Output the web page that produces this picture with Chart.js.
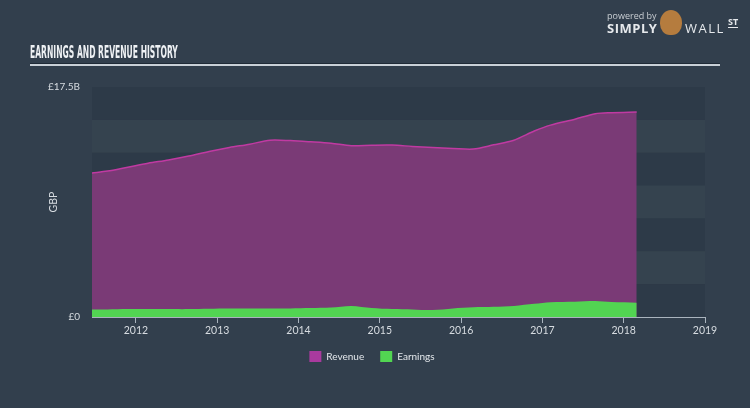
<!DOCTYPE html>
<html>
<head>
<meta charset="utf-8">
<script src="https://cdn.jsdelivr.net/npm/chart.js@4.4.1/dist/chart.umd.min.js"></script>
<style>
	html, body { margin: 0; padding: 0; background: #323f4d; }
	#wrap { position: relative; width: 750px; height: 408px; overflow: hidden; }
	#title {
		position: absolute; left: 30px; top: 41px;
		font: bold 18px "Liberation Sans Narrow", "DejaVu Sans Condensed", sans-serif;
		color: #eef1f4; white-space: nowrap;
		transform-origin: 0 0;
	}
	#rule {
		position: absolute; left: 30px; top: 63px; width: 690px; height: 1px;
		background: #1f2a36; border-bottom: 2px solid #c9d0d7;
	}
	#logo { position: absolute; left: 600px; top: 6px; width: 150px; height: 30px; color: #e6e9ec; font-family: "Open Sans", sans-serif; }
	#logo .pw { position: absolute; left: 7px; top: 3px; font-size: 9px; color: #c9ced3; }
	#logo .simply { position: absolute; left: 7px; top: 13px; font-size: 13px; font-weight: bold; letter-spacing: 0.5px; }
	#logo .bull { position: absolute; left: 60px; top: 4px; width: 22px; height: 25px; border-radius: 50% 50% 45% 45%; background: #b57c3e; }
	#logo .wall { position: absolute; left: 85px; top: 13px; font-size: 13px; letter-spacing: 1.5px; }
	#logo .st { position: absolute; left: 128px; top: 11px; font-size: 9px; font-weight: bold; border-bottom: 1px solid #e6e9ec; line-height: 10px; }
	canvas { position: absolute; left: 0; top: 0; }
</style>
</head>
<body>
<div id="wrap">
	<canvas id="chart" width="750" height="408"></canvas>
	<div id="title">EARNINGS AND REVENUE HISTORY</div>
	<div id="rule"></div>
	<div id="logo">
		<span class="pw">powered by</span>
		<span class="simply">SIMPLY</span>
		<span class="bull"></span>
		<span class="wall">WALL</span>
		<span class="st">ST</span>
	</div>
</div>
<script>
const years = [2011.46, 2011.65, 2011.9, 2012.15, 2012.4, 2012.65, 2012.9, 2013.15, 2013.4, 2013.65,
	2013.9, 2014.15, 2014.4, 2014.65, 2014.9, 2015.15, 2015.4, 2015.65, 2015.9, 2016.15,
	2016.4, 2016.65, 2016.9, 2017.1, 2017.4, 2017.65, 2017.85, 2018.16];
// GBP billions
const revenue = [10.96, 11.1, 11.4, 11.7, 11.95, 12.25, 12.6, 12.9, 13.15, 13.45,
	13.42, 13.33, 13.22, 13.03, 13.07, 13.08, 12.98, 12.9, 12.83, 12.78,
	13.1, 13.45, 14.15, 14.6, 15.05, 15.47, 15.55, 15.6];
const earnings = [0.58, 0.58, 0.6, 0.6, 0.6, 0.6, 0.62, 0.64, 0.64, 0.64,
	0.65, 0.68, 0.72, 0.84, 0.68, 0.6, 0.58, 0.53, 0.65, 0.74,
	0.78, 0.84, 1.0, 1.12, 1.16, 1.22, 1.14, 1.09];
const xTicks = [2012, 2013, 2014, 2015, 2016, 2017, 2018, 2019];
const yTicks = [0, 17.5];
const yTickLabels = ["£0", "£17.5B"];

// squeeze the title to the condensed width of the original
const titleEl = document.getElementById("title");
titleEl.style.transform = "scaleX(" + (148 / titleEl.offsetWidth) + ")";

const toPoints = (vals) => vals.map((v, i) => ({ x: years[i], y: v }));

// alternating horizontal stripes behind the plot
const bands = {
	id: "bands",
	beforeDraw(chart) {
		const { ctx, chartArea, scales } = chart;
		const step = 2.5;
		for (let i = 0; i < 7; i++) {
			const y0 = scales.y.getPixelForValue(17.5 - i * step);
			const y1 = scales.y.getPixelForValue(17.5 - (i + 1) * step);
			ctx.fillStyle = i % 2 === 0 ? "#2d3a48" : "#35434f";
			ctx.fillRect(chartArea.left, y0, chartArea.right - chartArea.left, y1 - y0);
		}
	},
};

new Chart(document.getElementById("chart"), {
	type: "line",
	data: {
		datasets: [{
			label: "Revenue",
			data: toPoints(revenue),
			borderColor: "#c03aa2",
			backgroundColor: "#7a3a76",
			borderWidth: 1.5,
			fill: "origin",
			pointRadius: 0,
			tension: 0.3,
			order: 1,
		}, {
			label: "Earnings",
			data: toPoints(earnings),
			borderColor: "#52d452",
			backgroundColor: "#52d452",
			borderWidth: 0,
			fill: "origin",
			pointRadius: 0,
			tension: 0.3,
			order: 0,
		}],
	},
	options: {
		responsive: false,
		animation: false,
		layout: { padding: { left: 39, right: 45, top: 87, bottom: 36 } },
		plugins: {
			tooltip: { enabled: false },
			legend: {
				position: "bottom",
				labels: {
					color: "#e3e7eb",
					font: { family: "Lato", size: 10 },
					boxWidth: 12,
					boxHeight: 11,
					padding: 16,
					generateLabels(chart) {
						const fills = ["#a93a9e", "#52d652"];
						return chart.data.datasets.map((ds, i) => ({
							text: ds.label,
							fillStyle: fills[i],
							strokeStyle: fills[i],
							lineWidth: 0,
							datasetIndex: i,
							fontColor: "#e3e7eb",
						}));
					},
				},
			},
		},
		scales: {
			x: {
				type: "linear",
				min: 2011.46,
				max: 2019,
				afterBuildTicks: (scale) => { scale.ticks = xTicks.map((v) => ({ value: v })); },
				afterFit: (scale) => { scale.height = 18; },
				ticks: {
					color: "#d7dce1",
					font: { family: "Lato", size: 10.5 },
					padding: 1,
					maxRotation: 0,
					callback: (v) => String(v),
				},
				grid: { drawOnChartArea: false, drawTicks: true, tickLength: 6, color: "#aab4be", lineWidth: 1 },
				border: { display: true, color: "#aab4be", width: 1 },
			},
			y: {
				min: 0,
				max: 17.5,
				afterBuildTicks: (scale) => { scale.ticks = yTicks.map((v) => ({ value: v })); },
				afterFit: (scale) => { scale.width = 53; },
				ticks: {
					color: "#d7dce1",
					font: { family: "Lato", size: 10 },
					padding: 4,
					callback: (v) => yTickLabels[yTicks.indexOf(v)],
				},
				grid: { display: false },
				border: { display: false },
				title: {
					display: true,
					text: "GBP",
					color: "#d7dce1",
					font: { family: "Lato", size: 10.5 },
					padding: { top: 8, bottom: 0 },
				},
			},
		},
	},
	plugins: [bands],
});
</script>
</body>
</html>
